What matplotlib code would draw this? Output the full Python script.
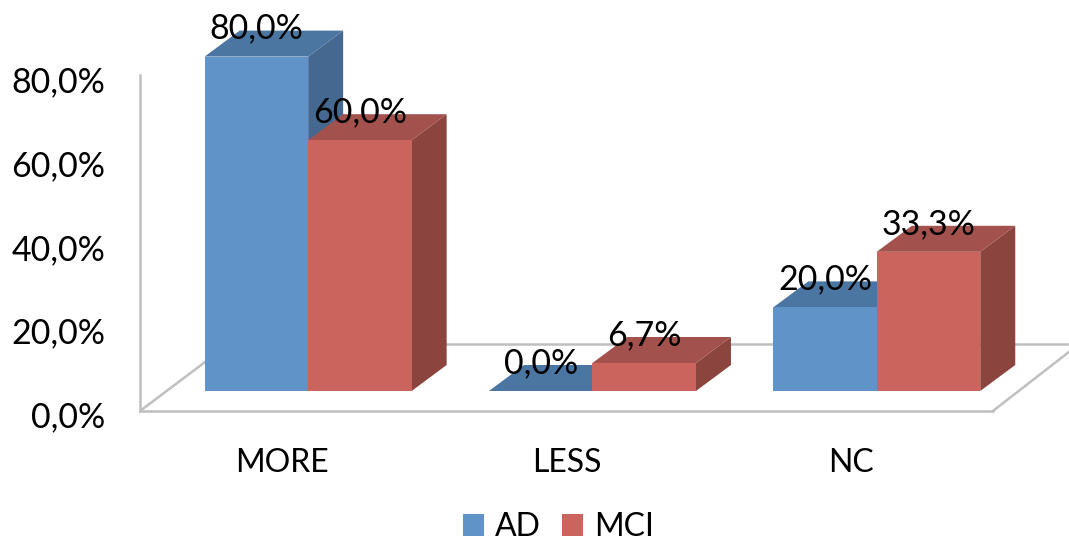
import matplotlib
matplotlib.use("Agg")
import matplotlib.pyplot as plt
from matplotlib.patches import Patch
from matplotlib.transforms import ScaledTranslation

plt.rcParams['font.family'] = ['Lato', 'DejaVu Sans']

categories = ["MORE", "LESS", "NC"]
series_names = ["AD", "MCI"]
ad_values = [80.0, 0.0, 20.0]
mci_values = [60.0, 6.7, 33.3]
y_ticks = [0, 20, 40, 60, 80]
y_tick_labels = ["0,0%", "20,0%", "40,0%", "60,0%", "80,0%"]

W, H = 1069, 543
LEFT, FLOOR = 140, 411          # pixel position of the chart origin
PX_X, PX_Y = 284.3, 4.18        # pixels per category / per percentage point
FS_NUM = 24.5
FS_TEXT = 23
GRID = "#bfbfbf"

front = ["#6094c9", "#cc645e"]
top = ["#4c76a2", "#a3514c"]
side = ["#44688f", "#8c443f"]

fig = plt.figure(figsize=(W / 100, H / 100), dpi=100, facecolor="white")
ax = fig.add_axes([LEFT / W, (H - FLOOR) / H, (W - LEFT) / W, FLOOR / H])
ax.set_xlim(-0.5, -0.5 + (W - LEFT) / PX_X)
ax.set_ylim(0, FLOOR / PX_Y)
ax.patch.set_alpha(0)

# Oblique projection offsets for the bar depth and the lift of bars above the floor edge
dx, dy = 35 / PX_X, 26 / PX_Y
lift = 20 / PX_Y
bar_w = 103.5 / PX_X
group_shift = 26 / PX_X

# Axis frame and floor outline
for name in ("top", "right"):
    ax.spines[name].set_visible(False)
for name in ("left", "bottom"):
    ax.spines[name].set_color(GRID)
    ax.spines[name].set_linewidth(1.8)
ax.spines["left"].set_bounds(0, 80.5)
ax.spines["bottom"].set_bounds(-0.5, 2.5)
back = 67 / PX_Y
floor_dx = 89 / PX_X
ax.plot([-0.5, -0.5 + floor_dx], [0, back], color=GRID, lw=1.8, zorder=1)
ax.plot([-0.5 + floor_dx, 2.78], [back, back], color=GRID, lw=1.8, zorder=1)
ax.plot([2.5, 2.5 + 76 / PX_X], [0, 59 / PX_Y], color=GRID, lw=1.8, zorder=1, clip_on=False)

ax.set_xticks(range(len(categories)), categories)
ax.set_yticks(y_ticks, y_tick_labels)
ax.tick_params(axis="x", length=0, labelsize=FS_TEXT, labelcolor="black", pad=26.5)
ax.tick_params(axis="y", length=0, labelsize=FS_NUM, labelcolor="black", pad=25)
# The value scale sits slightly below its nominal height
shift_down = ScaledTranslation(0, -6 / 100, fig.dpi_scale_trans)
for lab in ax.get_yticklabels():
    lab.set_verticalalignment("center")
    lab.set_transform(lab.get_transform() + shift_down)

# Bars, left to right so nearer faces overlap correctly
z = 2
for i in range(len(categories)):
    for s, values in enumerate((ad_values, mci_values)):
        v = values[i]
        x0 = i + group_shift + (s - 1) * bar_w
        x1 = x0 + bar_w
        b, t = lift, lift + v
        ax.fill([x1, x1 + dx, x1 + dx, x1], [b, b + dy, t + dy, t],
                color=side[s], lw=0, zorder=z)
        ax.fill([x0, x1, x1 + dx, x0 + dx], [t, t, t + dy, t + dy],
                color=top[s], lw=0, zorder=z)
        ax.bar(x0, v, width=bar_w, bottom=b, align="edge",
               color=front[s], lw=0, zorder=z + 0.5)
        ax.annotate(f"{v:.1f}%".replace(".", ","), xy=((x0 + x1) / 2, t),
                    xytext=(0, 28), textcoords="offset pixels",
                    ha="center", va="center", fontsize=FS_NUM, color="black",
                    zorder=20, annotation_clip=False)
        z += 1

handles = [Patch(facecolor=front[0], label=series_names[0]),
           Patch(facecolor=front[1], label=series_names[1])]
fig.legend(handles=handles, loc="center", bbox_to_anchor=(558.5 / W, 1 - 527 / H),
           ncols=2, frameon=False, fontsize=FS_TEXT, handlelength=0.66, handleheight=0.66,
           handletextpad=0.35, columnspacing=0.65, borderpad=0, borderaxespad=0)

fig.savefig("out.png", dpi=100)
